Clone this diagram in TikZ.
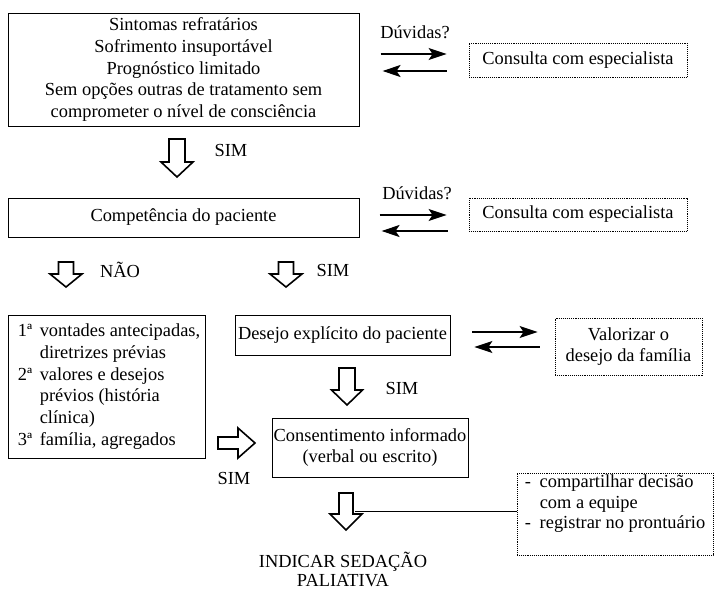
\documentclass[tikz,border=0pt]{standalone}
\usepackage{fontspec}
\setmainfont{Liberation Serif}
\usetikzlibrary{arrows.meta,calc}
\tikzset{
  box/.style={draw, line width=0.8pt, inner sep=1pt, align=center},
  dotbox/.style={draw, densely dotted, line width=0.9pt, inner sep=1pt, align=center},
  thinarrow/.style={line width=1.2pt, -{Stealth[length=18pt,width=12pt,inset=4pt]}},
  hollow/.style={draw, line width=1.6pt, fill=white, line join=miter},
  lbl/.style={inner sep=0pt},
  pics/hdown/.style n args={4}{code={
    \draw[hollow] (-#3,0) -- (-#3,#1-#2) -- (-#4,#1-#2) -- (0,#1) -- (#4,#1-#2) -- (#3,#1-#2) -- (#3,0) -- cycle;}},
  pics/hright/.style n args={4}{code={
    \draw[hollow] (0,-#3) -- (#1-#2,-#3) -- (#1-#2,-#4) -- (#1,0) -- (#1-#2,#4) -- (#1-#2,#3) -- (0,#3) -- cycle;}},
}
\begin{document}
\begin{tikzpicture}[x=1pt,y=-1pt,font=\fontsize{18.4}{21.7}\selectfont]
\useasboundingbox (0,0) rectangle (716,592);

% top box
\node[box, minimum width=351pt, minimum height=113pt] (b1) at (183.5,69.5)
  {Sintomas refratários\\Sofrimento insuportável\\Prognóstico limitado\\Sem opções outras de tratamento sem\\comprometer o nível de consciência};
\node[dotbox, minimum width=218pt, minimum height=34pt] (c1) at (578,60) {Consulta com especialista};
\node[lbl] (d1) at (415,32) {Dúvidas?};
\draw[thinarrow] ($(c1.west)+(-88,-6)$) -- ($(c1.west)+(-22,-6)$);
\draw[thinarrow] ($(c1.west)+(-22,11)$) -- ($(c1.west)+(-86,11)$);

\pic at (177,139) {hdown={38}{15}{8}{16}};
\node[lbl] (s1) at (231,150) {SIM};

% competence
\node[box, minimum width=351pt, minimum height=39pt] (b2) at (183.5,217.5) {Competência do paciente};
\node[dotbox, minimum width=218pt, minimum height=33pt] (c2) at (578,214.5) {Consulta com especialista};
\node[lbl] (d2) at (417,193) {Dúvidas?};
\draw[thinarrow] ($(c2.west)+(-89,0.5)$) -- ($(c2.west)+(-22,0.5)$);
\draw[thinarrow] ($(c2.west)+(-21,16.5)$) -- ($(c2.west)+(-87,16.5)$);

\pic at (66,262) {hdown={25}{13}{7.5}{16}};
\node[lbl] (n1) at (120,270) {NÃO};
\pic at (286,262) {hdown={25}{13}{7.5}{16}};
\node[lbl] (s2) at (333,270) {SIM};

% left box
\node[box, minimum width=197pt, minimum height=143pt] (b3) at (106.5,386.5) {};
\node[align=left, anchor=west, inner sep=0pt] (b3t) at ($(b3.west)+(10,0)$)
  {\makebox[22pt][l]{1ª}vontades antecipadas,\\
   \hspace*{22pt}diretrizes prévias\\
   \makebox[22pt][l]{2ª}valores e desejos\\
   \hspace*{22pt}prévios (história\\
   \hspace*{22pt}clínica)\\
   \makebox[22pt][l]{3ª}família, agregados};

% desire
\node[box, minimum width=215pt, minimum height=40pt] (b4) at (342.5,335) {Desejo explícito do paciente};
\node[dotbox, minimum width=147pt, minimum height=57pt] (v1) at (628.5,346.5) {Valorizar o\\desejo da família};
\draw[thinarrow] ($(b4.east)+(22,-3)$) -- ($(v1.west)+(-17,-14.5)$);
\draw[thinarrow] ($(v1.west)+(-15,0.5)$) -- ($(b4.east)+(24,12)$);

\pic at (347,368) {hdown={37}{15}{8}{15.5}};
\node[lbl] (s3) at (402,388) {SIM};

% consent
\node[box, minimum width=196pt, minimum height=59pt] (b5) at (370,447.5) {Consentimento informado\\(verbal ou escrito)};
\pic at (218,443) {hright={37}{17}{6}{15}};
\node[lbl] (s4) at (234,478) {SIM};

\pic at (346,493) {hdown={37}{16}{7}{16}};
\coordinate (a5r) at (355,511);
\node[draw, densely dotted, line width=0.9pt, minimum width=196pt, minimum height=82pt, inner sep=0pt] (dl) at (615,514) {};
\node[align=left, anchor=north west, inner sep=0pt, font=\fontsize{18.4}{20.6}\selectfont] (dlt) at ($(dl.north west)+(8,2)$)
  {\makebox[15pt][l]{-}compartilhar decisão\\
   \hspace*{15pt}com a equipe\\
   \makebox[15pt][l]{-}registrar no prontuário};
\draw[line width=1pt] (a5r) -- (a5r -| dl.west);

\node[lbl, align=center, font=\fontsize{18.4}{19.5}\selectfont] (fin) at (343,569.5) {INDICAR SEDAÇÃO\\PALIATIVA};
\end{tikzpicture}
\end{document}
